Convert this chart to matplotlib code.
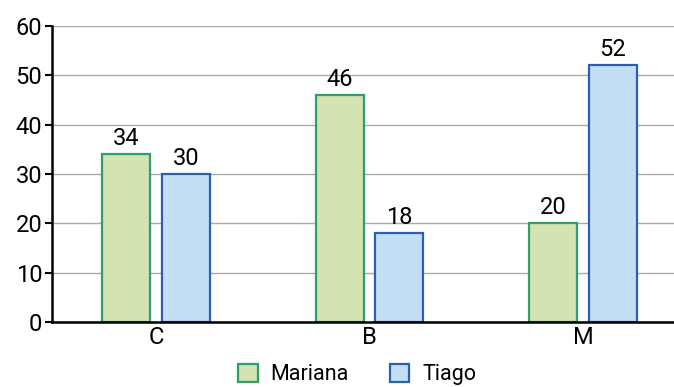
import numpy as np
import matplotlib.pyplot as plt

categories = ['C', 'B', 'M']
mariana = [34, 46, 20]
tiago = [30, 18, 52]

plt.rcParams['font.family'] = ['Roboto', 'DejaVu Sans']

fig = plt.figure(figsize=(6.74, 3.87), dpi=100)
ax = fig.add_axes([52 / 674, 65 / 387, 1 - 52 / 674, 296 / 387])

x = np.arange(len(categories))
w = 0.225
off = 0.14
b1 = ax.bar(x - off, mariana, w, color='#d5e2b1', edgecolor='#2f9e6b', linewidth=1.6, label='Mariana', zorder=3)
b2 = ax.bar(x + off, tiago, w, color='#c4dff5', edgecolor='#2b60ad', linewidth=1.6, label='Tiago', zorder=3)
ax.bar_label(b1, padding=3, fontsize=17)
ax.bar_label(b2, padding=3, fontsize=17)

ax.set_ylim(0, 60)
ax.set_xlim(-0.487, 2.426)
ax.set_yticks(range(0, 61, 10))
ax.set_xticks(x)
ax.set_xticklabels(categories)
ax.yaxis.grid(True, color='#aaaaaa', linewidth=1, zorder=0)
ax.tick_params(axis='y', labelsize=17, length=5, width=1.5, pad=2)
ax.tick_params(axis='x', labelsize=17, length=0, pad=3)
for s in ['top', 'right']:
    ax.spines[s].set_visible(False)
ax.spines['left'].set_linewidth(1.8)
ax.spines['bottom'].set_linewidth(1.8)
ax.spines['left'].set_zorder(4)
ax.spines['bottom'].set_zorder(4)

fig.legend(loc='lower center', bbox_to_anchor=(0.53, -0.045), ncol=2, frameon=False,
           fontsize=15.5, handlelength=0.9, handleheight=0.9, columnspacing=1.9, handletextpad=0.6)

fig.savefig('out.png', dpi=100)
